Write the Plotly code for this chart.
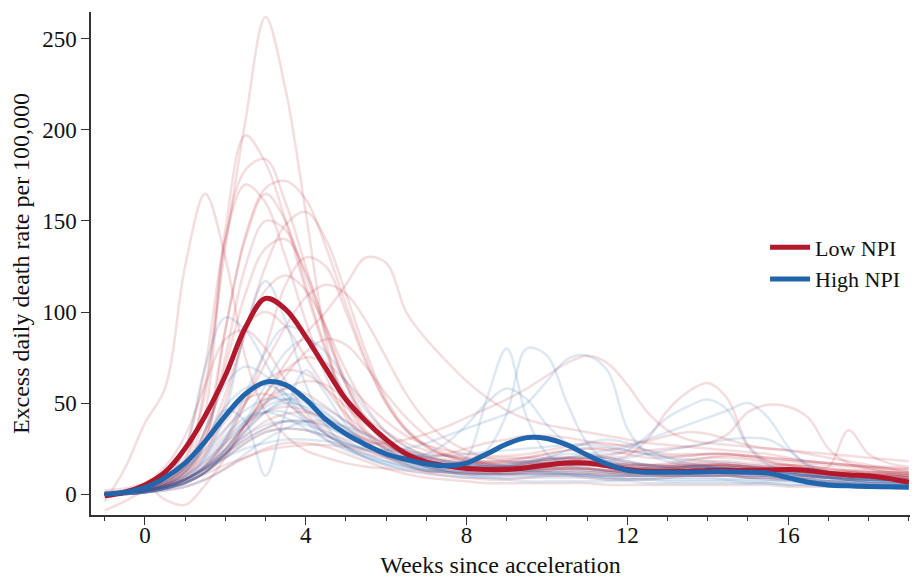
import plotly.graph_objects as go

# x grid: half-weeks from -1 to 19
weeks = [w / 2 for w in range(-2, 39)]

# ---- mean curves ----
low_npi_mean = [-1, 1, 5, 12, 25, 43, 65, 91.5, 107.5, 101.5, 86.5, 69, 52, 40, 30, 22, 17.5, 15.5, 14, 13.5,
                13.5, 14.5, 16, 17, 17, 15.5, 13.5, 12.5, 12.5, 12.5, 13, 13, 13, 13.2, 13.5, 13,
                11.5, 10.5, 10, 8.5, 6.5]
high_npi_mean = [0, 1, 3.5, 9, 17, 29, 43, 55, 61.5, 60, 52, 41, 33, 27, 22, 19, 16.5, 15.5, 17, 22,
                 27.5, 31, 30.5, 27, 21.5, 16.5, 13, 12, 12, 12, 12.3, 12.3, 12, 11.5, 9, 6.5,
                 5, 4.5, 4.2, 4, 3.8]

# ---- individual trajectories, Low NPI group ----
low_r01 = [0, 1, 3, 8, 18, 60, 135, 205, 262, 222, 155, 85, 45, 30, 21, 16, 12, 10, 9, 8, 8, 9, 10, 10, 9, 8, 8, 8, 9, 10, 10, 10, 9, 8, 8, 7, 7, 6, 6, 5, 5]
low_r02 = [1, 2, 4, 9, 20, 55, 145, 197, 182, 150, 112, 78, 50, 33, 24, 19, 15, 13, 12, 11, 11, 12, 13, 14, 14, 13, 12, 12, 13, 14, 15, 15, 14, 13, 12, 11, 10, 10, 9, 9, 8]
low_r03 = [0, 1, 3, 7, 16, 45, 140, 178, 184, 160, 125, 90, 60, 40, 28, 21, 17, 15, 14, 14, 15, 17, 19, 20, 19, 17, 15, 14, 14, 15, 16, 16, 15, 14, 13, 12, 11, 11, 10, 10, 9]
low_r04 = [0, 1, 2, 5, 10, 28, 90, 142, 168, 172, 162, 136, 104, 74, 50, 35, 26, 21, 18, 16, 15, 15, 16, 18, 20, 20, 18, 16, 16, 18, 20, 21, 20, 18, 16, 14, 13, 12, 12, 11, 10]
low_r05 = [-4, 14, 39, 58, 125, 165, 130, 75, 45, 32, 24, 20, 17, 15, 14, 13, 12, 12, 11, 11, 11, 12, 12, 12, 11, 11, 10, 10, 10, 11, 11, 11, 10, 10, 9, 9, 9, 8, 8, 8, 7]
low_r06 = [0, 1, 3, 8, 25, 70, 140, 170, 160, 130, 95, 65, 42, 28, 20, 16, 13, 12, 11, 11, 12, 13, 14, 14, 13, 12, 11, 11, 11, 12, 12, 12, 11, 11, 10, 10, 9, 9, 8, 8, 7]
low_r07 = [0, 1, 2, 6, 14, 35, 90, 140, 165, 150, 115, 80, 52, 35, 25, 19, 15, 13, 12, 12, 13, 14, 15, 15, 14, 13, 12, 12, 13, 14, 14, 14, 13, 12, 12, 11, 10, 10, 9, 9, 8]
low_r08 = [0, 1, 2, 5, 10, 22, 50, 90, 125, 148, 155, 140, 110, 78, 52, 36, 27, 22, 19, 17, 16, 17, 18, 19, 19, 18, 17, 16, 17, 19, 20, 20, 19, 17, 16, 15, 14, 13, 13, 12, 12]
low_r09 = [0, 0, 2, 5, 12, 30, 75, 125, 150, 145, 120, 88, 60, 40, 28, 21, 17, 15, 14, 14, 15, 16, 17, 17, 16, 15, 14, 14, 15, 16, 16, 16, 15, 14, 13, 12, 11, 11, 10, 10, 9]
low_r10 = [0, 1, 3, 7, 14, 28, 55, 88, 112, 120, 112, 92, 68, 48, 34, 26, 21, 18, 17, 17, 18, 20, 22, 24, 25, 24, 22, 20, 20, 21, 22, 22, 21, 19, 18, 17, 16, 15, 14, 13, 12]
low_r11 = [0, 1, 2, 4, 8, 14, 24, 38, 55, 72, 88, 100, 115, 130, 127, 100, 85, 73, 62, 53, 46, 41, 38, 36, 34, 32, 30, 28, 27, 26, 25, 24, 23, 22, 20, 18, 17, 16, 15, 14, 13]
low_r12 = [0, 1, 2, 4, 8, 16, 30, 50, 72, 92, 108, 115, 110, 95, 75, 55, 40, 30, 24, 20, 18, 17, 17, 18, 18, 17, 16, 15, 15, 16, 17, 17, 16, 15, 14, 13, 12, 12, 11, 11, 10]
low_r13 = [0, 1, 2, 4, 8, 15, 28, 50, 80, 115, 130, 125, 100, 72, 50, 35, 26, 21, 18, 16, 15, 15, 16, 16, 16, 15, 14, 14, 14, 15, 15, 15, 14, 13, 12, 12, 11, 10, 10, 9, 9]
low_r14 = [0, 2, 6, 15, 32, 60, 85, 90, 80, 62, 45, 33, 26, 22, 20, 18, 17, 16, 15, 15, 15, 16, 17, 17, 17, 16, 15, 15, 15, 16, 16, 16, 15, 14, 14, 13, 12, 12, 11, 11, 10]
low_r15 = [0, 1, 2, 5, 12, 25, 40, 52, 55, 50, 42, 35, 30, 28, 28, 30, 33, 37, 42, 47, 52, 58, 65, 72, 76, 72, 60, 45, 35, 30, 28, 27, 26, 25, 24, 22, 20, 18, 16, 14, 12]
low_r16 = [0, 1, 2, 4, 8, 14, 22, 30, 36, 40, 40, 38, 34, 30, 26, 24, 22, 21, 20, 20, 20, 20, 20, 20, 20, 20, 21, 30, 46, 56, 61, 52, 27, 18, 16, 15, 14, 13, 12, 12, 11]
low_r17 = [0, 1, 2, 4, 8, 15, 25, 38, 50, 58, 62, 60, 52, 42, 34, 28, 24, 21, 19, 18, 18, 18, 19, 20, 21, 22, 23, 24, 25, 26, 28, 33, 45, 49, 48, 42, 25, 17, 14, 12, 11]
low_r18 = [0, 0, 1, 3, 6, 12, 20, 28, 34, 36, 35, 32, 28, 24, 21, 19, 17, 16, 15, 15, 15, 15, 15, 16, 16, 16, 16, 16, 15, 15, 15, 15, 15, 15, 16, 16, 15, 35, 22, 17, 15]
low_r19 = [2, 3, 5, -3, -6, 5, 20, 38, 52, 58, 55, 48, 40, 33, 27, 22, 18, 15, 13, 12, 11, 11, 11, 11, 11, 10, 10, 10, 10, 10, 10, 10, 10, 10, 9, 9, 9, 8, 8, 8, 8]
low_r20 = [-9, -4, 2, 6, 12, 22, 35, 50, 62, 68, 66, 58, 48, 38, 30, 24, 20, 18, 17, 17, 17, 18, 19, 19, 18, 17, 16, 16, 16, 17, 18, 18, 17, 16, 15, 14, 13, 13, 12, 12, 11]
low_r21 = [0, 1, 2, 4, 7, 11, 16, 20, 24, 26, 27, 27, 26, 24, 22, 20, 18, 17, 16, 15, 14, 13, 13, 13, 12, 12, 11, 11, 10, 10, 10, 10, 9, 9, 8, 8, 7, 7, 6, 6, 5]
low_r22 = [0, 1, 3, 7, 15, 35, 65, 92, 100, 92, 75, 58, 44, 34, 27, 22, 19, 17, 15, 14, 14, 14, 14, 14, 14, 13, 13, 13, 14, 15, 16, 16, 15, 14, 13, 12, 12, 11, 11, 10, 10]
low_r23 = [0, 0, 1, 3, 6, 12, 22, 38, 55, 68, 75, 72, 62, 50, 40, 32, 27, 24, 22, 21, 21, 22, 24, 26, 28, 28, 26, 24, 22, 22, 22, 22, 21, 20, 19, 18, 17, 16, 15, 14, 14]
low_r24 = [0, 1, 2, 6, 14, 32, 70, 110, 135, 140, 122, 92, 62, 42, 30, 23, 19, 16, 15, 14, 14, 15, 16, 16, 16, 15, 14, 14, 14, 15, 16, 16, 15, 14, 13, 12, 11, 11, 10, 10, 9]
low_r25 = [0, 1, 2, 4, 8, 14, 22, 32, 40, 44, 45, 42, 36, 30, 25, 22, 20, 19, 18, 18, 19, 20, 22, 24, 25, 25, 24, 22, 21, 21, 22, 22, 21, 20, 19, 18, 17, 16, 15, 15, 14]
low_r26 = [0, 0, 1, 3, 6, 12, 22, 35, 50, 65, 78, 85, 82, 70, 55, 42, 32, 25, 20, 17, 15, 14, 14, 14, 14, 13, 12, 12, 12, 13, 14, 14, 13, 12, 11, 10, 10, 9, 9, 8, 8]
low_r27 = [0, 0, 1, 2, 4, 8, 14, 20, 25, 28, 28, 26, 22, 18, 14, 11, 9, 8, 7, 6, 6, 6, 6, 6, 6, 5, 5, 5, 5, 5, 5, 5, 5, 5, 4, 4, 4, 4, 4, 4, 4]
low_r28 = [0, 1, 2, 5, 10, 18, 28, 38, 45, 48, 46, 40, 33, 27, 22, 20, 20, 22, 25, 28, 30, 32, 32, 31, 29, 27, 27, 29, 32, 34, 33, 30, 27, 25, 24, 23, 22, 21, 20, 19, 18]

# ---- individual trajectories, High NPI group ----
high_b01 = [0, 0, 1, 3, 8, 20, 45, 90, 117, 95, 60, 38, 26, 20, 16, 13, 11, 10, 9, 9, 9, 9, 9, 9, 9, 8, 8, 8, 8, 8, 8, 8, 7, 7, 7, 6, 6, 6, 5, 5, 5]
high_b02 = [0, 1, 3, 8, 25, 70, 97, 90, 72, 55, 42, 33, 27, 22, 18, 15, 13, 12, 11, 11, 11, 11, 11, 11, 10, 10, 10, 10, 10, 10, 10, 10, 9, 9, 8, 8, 7, 7, 6, 6, 5]
high_b03 = [0, 0, 1, 3, 7, 15, 30, 55, 78, 92, 88, 72, 55, 40, 30, 23, 19, 16, 15, 15, 16, 18, 20, 22, 22, 20, 18, 16, 15, 15, 15, 15, 14, 13, 12, 11, 10, 9, 8, 8, 7]
high_b04 = [0, 1, 2, 5, 12, 28, 46, 40, 10, 45, 68, 55, 38, 28, 22, 18, 15, 13, 12, 12, 12, 12, 12, 12, 12, 11, 11, 11, 11, 11, 11, 11, 10, 10, 9, 9, 8, 8, 7, 7, 6]
high_b05 = [0, 1, 2, 4, 9, 18, 30, 40, 45, 45, 40, 33, 26, 20, 16, 14, 13, 14, 20, 52, 80, 42, 22, 16, 14, 13, 12, 12, 12, 12, 12, 11, 11, 10, 9, 8, 7, 6, 5, 5, 4]
high_b06 = [0, 0, 1, 3, 7, 14, 25, 38, 48, 52, 50, 44, 36, 28, 22, 18, 16, 16, 18, 24, 44, 80, 76, 50, 28, 18, 15, 14, 13, 13, 13, 13, 12, 12, 11, 10, 9, 8, 8, 7, 7]
high_b07 = [0, 0, 1, 3, 6, 12, 20, 28, 34, 36, 35, 32, 28, 25, 24, 25, 28, 32, 36, 40, 44, 50, 62, 74, 76, 68, 36, 22, 18, 16, 15, 14, 13, 12, 11, 10, 9, 8, 8, 7, 7]
high_b08 = [0, 1, 2, 4, 8, 16, 28, 40, 50, 55, 52, 45, 36, 28, 22, 20, 22, 28, 38, 50, 58, 52, 38, 28, 22, 19, 17, 16, 15, 15, 15, 14, 14, 13, 12, 11, 10, 9, 9, 8, 8]
high_b09 = [0, 0, 1, 3, 6, 12, 22, 35, 45, 50, 48, 42, 34, 27, 22, 19, 17, 16, 16, 16, 17, 18, 19, 20, 20, 21, 24, 32, 42, 48, 52, 46, 26, 16, 12, 10, 9, 8, 7, 7, 6]
high_b10 = [0, 0, 1, 2, 4, 8, 14, 22, 30, 36, 40, 40, 37, 33, 28, 24, 20, 18, 17, 16, 16, 17, 18, 20, 22, 24, 26, 30, 34, 38, 42, 46, 50, 42, 26, 15, 12, 10, 9, 8, 7]
high_b11 = [0, 1, 2, 4, 8, 15, 24, 32, 38, 40, 38, 34, 29, 24, 20, 17, 15, 14, 13, 13, 13, 13, 14, 15, 16, 18, 20, 22, 24, 26, 28, 30, 31, 30, 24, 16, 12, 10, 9, 8, 7]
high_b12 = [0, 1, 2, 6, 15, 35, 60, 70, 65, 52, 40, 30, 24, 20, 17, 15, 13, 12, 11, 10, 10, 10, 10, 10, 10, 9, 9, 9, 9, 9, 9, 8, 8, 8, 7, 7, 6, 6, 5, 5, 5]
high_b13 = [0, 1, 2, 5, 10, 20, 32, 42, 45, 42, 36, 30, 25, 21, 18, 16, 14, 13, 12, 11, 11, 11, 11, 11, 11, 10, 10, 10, 10, 10, 10, 10, 9, 9, 8, 8, 7, 7, 6, 6, 6]
high_b14 = [0, 0, 1, 3, 6, 12, 24, 40, 60, 78, 85, 78, 62, 46, 34, 26, 21, 18, 16, 15, 15, 16, 17, 18, 18, 17, 16, 15, 14, 14, 14, 14, 13, 12, 11, 10, 9, 8, 7, 7, 6]
high_b15 = [0, 1, 2, 4, 8, 14, 20, 25, 28, 30, 30, 29, 27, 25, 22, 20, 18, 16, 15, 14, 14, 13, 13, 13, 13, 12, 12, 12, 12, 12, 12, 12, 11, 11, 10, 10, 9, 9, 8, 8, 7]
high_b16 = [0, 1, 2, 5, 12, 28, 48, 58, 60, 55, 46, 38, 32, 27, 24, 22, 21, 21, 22, 23, 24, 25, 26, 27, 27, 26, 24, 22, 20, 19, 18, 17, 16, 15, 14, 13, 12, 11, 10, 10, 9]
high_b17 = [0, 1, 2, 4, 8, 14, 22, 30, 36, 40, 40, 37, 32, 26, 21, 17, 14, 12, 10, 9, 8, 7, 7, 7, 7, 7, 7, 6, 6, 6, 6, 6, 6, 6, 5, 5, 5, 5, 4, 4, 4]
high_b18 = [0, 0, 1, 3, 6, 12, 22, 34, 45, 52, 52, 47, 40, 32, 25, 20, 17, 15, 14, 14, 15, 17, 20, 24, 28, 30, 28, 24, 20, 17, 15, 14, 13, 12, 11, 10, 9, 8, 7, 6, 6]
high_b19 = [0, 1, 3, 7, 14, 24, 36, 46, 52, 52, 47, 40, 33, 27, 23, 20, 18, 17, 16, 15, 14, 13, 12, 11, 10, 9, 8, 8, 7, 7, 7, 7, 6, 6, 5, 5, 4, 4, 4, 3, 3]

low_lines = [low_r01, low_r02, low_r03, low_r04, low_r05, low_r06, low_r07, low_r08, low_r09, low_r10,
             low_r11, low_r12, low_r13, low_r14, low_r15, low_r16, low_r17, low_r18, low_r19, low_r20,
             low_r21, low_r22, low_r23, low_r24, low_r25, low_r26, low_r27, low_r28]
high_lines = [high_b01, high_b02, high_b03, high_b04, high_b05, high_b06, high_b07, high_b08,
              high_b09, high_b10, high_b11, high_b12, high_b13, high_b14, high_b15, high_b16,
              high_b17, high_b18, high_b19]

y_ticks = [0, 50, 100, 150, 200, 250]
x_ticks = [0, 4, 8, 12, 16]

RED = "#B2182B"
BLUE = "#2166AC"
RED_FAINT = "rgba(178,24,43,0.15)"
BLUE_FAINT = "rgba(33,102,172,0.15)"
FONT = "Liberation Serif, DejaVu Serif, serif"

fig = go.Figure()
for ys in low_lines:
    fig.add_trace(go.Scatter(x=weeks, y=ys, mode="lines", line=dict(color=RED_FAINT, width=2.5, shape="spline"),
                             showlegend=False, hoverinfo="skip"))
for ys in high_lines:
    fig.add_trace(go.Scatter(x=weeks, y=ys, mode="lines", line=dict(color=BLUE_FAINT, width=2.5, shape="spline"),
                             showlegend=False, hoverinfo="skip"))
fig.add_trace(go.Scatter(x=weeks, y=low_npi_mean, mode="lines", name="Low NPI",
                         line=dict(color=RED, width=5, shape="spline")))
fig.add_trace(go.Scatter(x=weeks, y=high_npi_mean, mode="lines", name="High NPI",
                         line=dict(color=BLUE, width=5, shape="spline")))

# page body adds an 8px offset; size the figure so the axes land where the reference has them
fig.update_layout(
    width=914, height=570,
    margin=dict(l=83, r=12, t=4, b=63),
    paper_bgcolor="white", plot_bgcolor="white",
    font=dict(family=FONT, size=23, color="#111"),
    legend=dict(x=0.823, y=0.5, xanchor="left", yanchor="middle", bgcolor="rgba(0,0,0,0)",
                itemwidth=40, font=dict(size=22, family=FONT)),
)
fig.update_xaxes(
    range=[-1.34, 19.03], showgrid=False, zeroline=False, automargin=False,
    showline=True, linecolor="#333", linewidth=1.5,
    tickmode="array", tickvals=x_ticks, ticks="outside", ticklen=8, tickwidth=1.3, tickcolor="#333",
    ticklabelstandoff=-9,
    minor=dict(tickmode="linear", tick0=-1, dtick=1, ticks="outside", ticklen=4, tickwidth=1.2, tickcolor="#333"),
    tickfont=dict(size=23), title=dict(text="Weeks since acceleration", font=dict(size=24), standoff=10),
)
fig.update_yaxes(
    range=[-11.5, 264.8], showgrid=False, zeroline=False, automargin=False,
    showline=True, linecolor="#333", linewidth=1.5,
    tickmode="array", tickvals=y_ticks, ticks="outside", ticklen=8, tickwidth=1.3, tickcolor="#333",
    tickfont=dict(size=23), title=dict(text="Excess daily death rate per 100,000", font=dict(size=24), standoff=8),
)

fig.write_html("out.html")
